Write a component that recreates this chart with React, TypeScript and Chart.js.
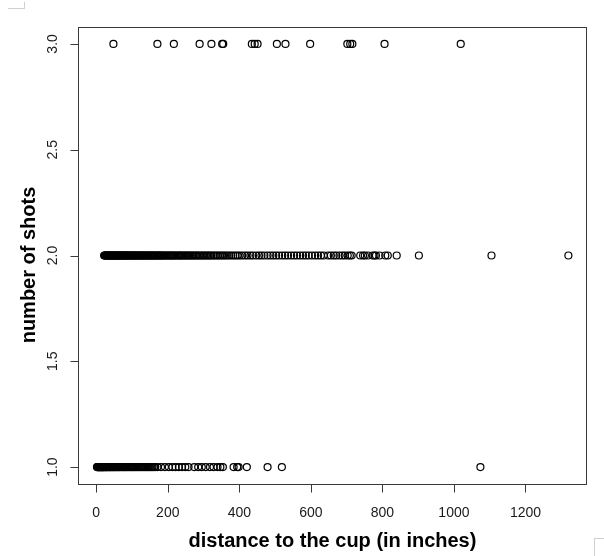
import React, { useEffect, useRef } from 'react';
import { Chart, registerables } from 'chart.js';

Chart.register(...registerables);

const shotLevels = [1, 2, 3];

const distOneShot = [
  2, 3, 4, 5, 6, 7, 8, 9, 10, 11, 12, 13, 14, 15, 16, 17, 18, 19, 20, 21, 22, 24, 25, 26, 28, 29, 30,
  32, 33, 35, 36, 38, 40, 41, 43, 45, 47, 48, 50, 52, 54, 56, 58, 60, 62, 64, 66, 69, 71, 73, 76, 78,
  80, 83, 85, 88, 90, 93, 96, 99, 101, 104, 107, 110, 113, 116, 119, 122, 125, 128, 131, 134, 137, 140,
  144, 147, 150, 154, 157, 161, 165, 171, 181, 192, 203, 213, 222, 231, 240, 249, 258, 274, 285, 295,
  306, 318, 328, 339, 347, 354, 384, 394, 398, 421, 479, 519, 1074,
];

const distTwoShots = [
  22, 24, 25, 27, 29, 30, 32, 33, 35, 37, 38, 40, 41, 43, 45, 46, 48, 49, 51, 53, 54, 56, 57, 59, 61,
  62, 64, 65, 67, 69, 70, 72, 74, 76, 78, 80, 81, 83, 85, 87, 89, 91, 93, 95, 97, 99, 101, 103, 105,
  107, 109, 111, 113, 115, 118, 120, 122, 124, 126, 128, 131, 133, 135, 137, 140, 142, 144, 146, 149,
  151, 153, 156, 158, 160, 163, 165, 168, 170, 173, 175, 178, 180, 183, 185, 188, 191, 194, 197, 200,
  203, 206, 209, 212, 215, 218, 221, 224, 228, 231, 234, 237, 240, 244, 247, 250, 254, 257, 261, 264,
  268, 271, 275, 279, 282, 286, 290, 294, 298, 302, 306, 310, 314, 318, 322, 327, 331, 336, 340, 345,
  350, 355, 360, 365, 371, 377, 383, 389, 395, 401, 408, 416, 423, 431, 438, 447, 455, 462, 470, 479,
  487, 495, 503, 511, 520, 528, 536, 545, 553, 561, 570, 578, 586, 594, 603, 612, 620, 628, 636, 648,
  656, 664, 671, 680, 688, 695, 703, 709, 714, 738, 746, 751, 760, 773, 778, 782, 792, 808, 815, 840,
  902, 1105, 1320,
];

const distThreeShots = [
  48, 171, 217, 289, 322, 352, 355, 435, 443, 451, 505, 529, 598, 702, 710, 716, 806, 1019,
];

const xTicks = [0, 200, 400, 600, 800, 1000, 1200];
const yTicks = [1.0, 1.5, 2.0, 2.5, 3.0];
const xTitle = 'distance to the cup (in inches)';
const yTitle = 'number of shots';

const FONT = '"Liberation Sans", Arial, Helvetica, sans-serif';

export default function App() {
  const ref = useRef<HTMLCanvasElement>(null);

  useEffect(() => {
    const canvas = ref.current;
    if (!canvas) return;
    const groups = [distOneShot, distTwoShots, distThreeShots];
    const points = groups.flatMap((arr, i) => arr.map((x) => ({ x, y: shotLevels[i] })));

    const framePlugin = {
      id: 'rframe',
      afterDraw(chart: any) {
        const { ctx, chartArea: a, scales } = chart;
        const xs = scales.x;
        const ys = scales.y;
        ctx.save();
        ctx.strokeStyle = '#3a3a3a';
        ctx.lineWidth = 1;
        const L = Math.round(a.left) + 0.5;
        const T = Math.round(a.top) + 0.5;
        const R = Math.round(a.right) - 0.5;
        const B = Math.round(a.bottom) + 0.5;
        ctx.strokeRect(L, T, R - L, B - T);
        ctx.beginPath();
        xTicks.forEach((v) => {
          const px = Math.round(xs.getPixelForValue(v)) + 0.5;
          ctx.moveTo(px, B);
          ctx.lineTo(px, B + 8);
        });
        yTicks.forEach((v) => {
          const py = Math.round(ys.getPixelForValue(v)) + 0.5;
          ctx.moveTo(L, py);
          ctx.lineTo(L - 8, py);
        });
        ctx.stroke();
        ctx.fillStyle = '#1a1a1a';
        ctx.font = `14px ${FONT}`;
        ctx.textAlign = 'center';
        ctx.textBaseline = 'alphabetic';
        xTicks.forEach((v) => {
          ctx.fillText(String(v), xs.getPixelForValue(v), 517);
        });
        yTicks.forEach((v) => {
          ctx.save();
          ctx.translate(57, ys.getPixelForValue(v));
          ctx.rotate(-Math.PI / 2);
          ctx.fillText(v.toFixed(1), 0, 0);
          ctx.restore();
        });
        ctx.fillStyle = '#000';
        ctx.font = `bold 20px ${FONT}`;
        ctx.fillText(xTitle, (a.left + a.right) / 2, 547);
        ctx.save();
        ctx.translate(35, 265);
        ctx.rotate(-Math.PI / 2);
        ctx.fillText(yTitle, 0, 0);
        ctx.restore();
        ctx.restore();
      },
    };

    const chart = new Chart(canvas, {
      type: 'scatter',
      data: {
        datasets: [
          {
            data: points,
            pointRadius: 3.5,
            pointHoverRadius: 3.5,
            pointBorderWidth: 1.2,
            pointBorderColor: '#000',
            pointBackgroundColor: 'rgba(0,0,0,0)',
          },
        ],
      },
      options: {
        responsive: false,
        animation: false,
        devicePixelRatio: 1,
        events: [],
        layout: { padding: { left: 78, top: 27, right: 17, bottom: 72 } },
        scales: {
          x: { type: 'linear', min: -51, max: 1372, display: false },
          y: { type: 'linear', min: 0.92, max: 3.08, display: false },
        },
        plugins: {
          legend: { display: false },
          tooltip: { enabled: false },
        },
      },
      plugins: [framePlugin],
    });
    return () => chart.destroy();
  }, []);

  return (
    <div style={{ position: 'absolute', left: 0, top: 0, width: 604, height: 556, background: '#fff' }}>
      <canvas ref={ref} width={604} height={556} style={{ display: 'block' }} />
      <div style={{ position: 'absolute', left: 8, top: 8, width: 16, height: 0, borderTop: '1px solid #d0d0d0' }} />
      <div style={{ position: 'absolute', left: 24, top: 2, width: 0, height: 7, borderLeft: '1px solid #d0d0d0' }} />
      <div style={{ position: 'absolute', left: 594, top: 538, width: 10, height: 0, borderTop: '1px solid #d0d0d0' }} />
      <div style={{ position: 'absolute', left: 594, top: 538, width: 0, height: 18, borderLeft: '1px solid #d0d0d0' }} />
    </div>
  );
}
